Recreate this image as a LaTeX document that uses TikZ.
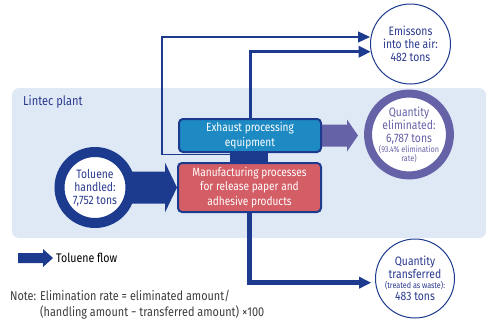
\documentclass[tikz,border=0pt]{standalone}
\usepackage{fontspec}
\setmainfont{Fira Sans}[FakeStretch=0.85]
\usetikzlibrary{calc,arrows.meta}
\definecolor{navy}{HTML}{1C3A8E}
\definecolor{txtblue}{HTML}{2B3A8F}
\definecolor{plantbg}{HTML}{DFE9F6}
\definecolor{exblue}{HTML}{1E8AC3}
\definecolor{mfred}{HTML}{D45E66}
\definecolor{purp}{HTML}{6662A8}
\definecolor{notegray}{HTML}{3C3C3C}
\newcommand{\smallf}{\fontsize{8.5}{9.5}\selectfont}
\begin{document}
\begin{tikzpicture}[x=1pt,y=-1pt,
  procbox/.style={draw=navy, line width=2pt, rounded corners=4pt, text=white,
    align=center, font=\fontsize{11.9}{14.5}\selectfont, inner sep=0pt},
  circtext/.style={circle, inner sep=0pt, align=center, fill=white,
    font=\fontsize{12.2}{13}\selectfont},
  flowtip/.style={-{Triangle[length=12pt,width=11pt]}},
]
\useasboundingbox (0,0) rectangle (488,322);
% plant area
\node[fill=plantbg, rounded corners=7pt, minimum width=474pt, minimum height=150pt, inner sep=0pt] (plant) at (249,163) {};
\node[anchor=base west, text=txtblue, font=\fontsize{13}{14}\selectfont, inner sep=0pt] (plantlabel) at (23,105) {Lintec plant};

% circles
\node[circtext, draw=navy, line width=1pt, minimum size=80pt, text=txtblue] (emis) at (410.5,44) {Emissons\\into the air:\\482 tons};
\node[circtext, draw=purp, line width=8pt, minimum size=80pt, text=purp] (elim) at (409,134.5)
  {Quantity\\eliminated:\\6,787 tons\\[-3pt]{\smallf (93.4\% elimination}\\[-4pt]{\smallf rate)}};
\node[circtext, draw=navy, line width=1pt, minimum size=79pt, text=txtblue] (trans) at (415,278.5)
  {Quantity\\transferred\\[-3pt]{\smallf (treated as waste):}\\[-1pt]483 tons};
\node[circtext, draw=navy, line width=10pt, minimum size=71pt, text=txtblue] (tol) at (95,187.5) {Toluene\\handled:\\7,752 tons};

% connector block between boxes
\node[fill=navy, minimum width=38pt, minimum height=9pt, inner sep=0pt] (conn) at (249,157.5) {};

% box anchors
\path (250,135.5) node[procbox, draw=none, minimum width=142pt, minimum height=33pt] (ex) {};
\path (249.5,187.5) node[procbox, draw=none, minimum width=143pt, minimum height=49pt] (mf) {};

% flows to emissions / transferred
\coordinate (bypass) at (162,37);
\draw[navy, line width=1.2pt, flowtip] ($(conn.north west)+(0,2)$) -| (bypass) -- (bypass -| emis.west);
\draw[navy, line width=3pt, flowtip] (ex.north) |- (emis.191);
\draw[navy, line width=5pt, flowtip] (mf.south) |- ($(trans.186)+(-4,0)$);

% purple flow
\fill[purp] ($(ex.east)+(-3,-11)$) -- ++(28,0) -- ++(0,-5) -- ++(11,16) -- ++(-11,16) -- ++(0,-5) -- ++(-28,0) -- cycle;

% big toluene arrow
\fill[navy] ($(tol.east)+(-4,-16)$) -- ($(mf.west)+(-12,-16)$) -- ($(mf.west)+(-12,-25)$) -- (mf.west)
  -- ($(mf.west)+(-12,25)$) -- ($(mf.west)+(-12,16)$) -- ($(tol.east)+(-4,16)$) -- cycle;

% boxes drawn
\node[procbox, fill=exblue, minimum width=142pt, minimum height=33pt] (ex2) at (ex) {Exhaust processing\\equipment};
\node[procbox, fill=mfred, minimum width=143pt, minimum height=49pt] (mf2) at (mf) {Manufacturing processes\\for release paper and\\adhesive products};

% legend
\node[anchor=west, inner sep=0pt, font=\fontsize{12.5}{13}\selectfont, text=black] (leg) at (56,258) {Toluene flow};
\fill[navy] ($(leg.west)+(-38,-5)$) -- ++(25,0) -- ++(0,-4) -- ++(10,9) -- ++(-10,9) -- ++(0,-4) -- ++(-25,0) -- cycle;

% note
\node[anchor=base west, inner sep=0pt, text=notegray, font=\fontsize{12.8}{13}\selectfont] (note1) at (10,300) {Note: Elimination rate = eliminated amount/};
\node[anchor=base west, inner sep=0pt, text=notegray, font=\fontsize{12.8}{13}\selectfont] (note2) at (10,316) {\phantom{Note: }(handling amount − transferred amount) ×100};
\end{tikzpicture}
\end{document}
